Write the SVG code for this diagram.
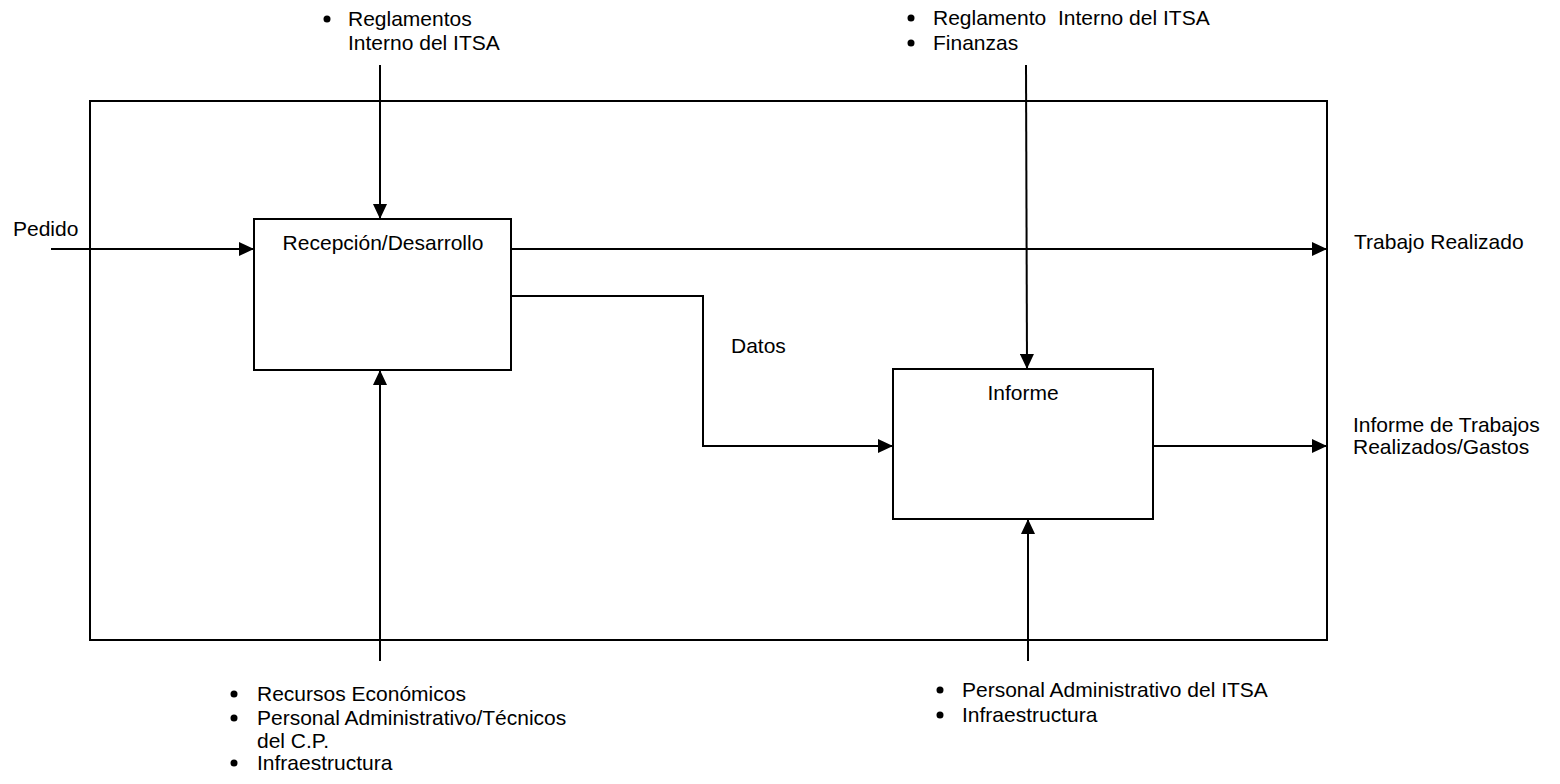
<svg xmlns="http://www.w3.org/2000/svg" width="1560" height="784" viewBox="0 0 1560 784">
<defs>
<style>
text{font-family:"Liberation Sans",Arial,sans-serif;font-size:21px;fill:#000;white-space:pre}
.ln{stroke:#000;stroke-width:2;fill:none}
.box{stroke:#000;stroke-width:2;fill:#fff}
.bul{fill:#000}
</style>
<marker id="ah" markerWidth="16" markerHeight="14" refX="15" refY="7" orient="auto" markerUnits="userSpaceOnUse">
<path d="M0,0 L15,7 L0,14 Z" fill="#000"/>
</marker>
</defs>
<rect width="1560" height="784" fill="#fff"/>
<g id="frame"><rect x="90" y="101" width="1237" height="539" class="ln"/></g>
<g id="recepcion"><rect x="254" y="219" width="257" height="151" class="box"/><text x="383" y="250" text-anchor="middle">Recepción/Desarrollo</text></g>
<g id="informe"><rect x="893" y="369" width="260" height="150" class="box"/><text x="1023" y="400" text-anchor="middle">Informe</text></g>
<g id="connectors">
<line x1="51" y1="249" x2="254" y2="249" class="ln" marker-end="url(#ah)"/>
<line x1="511" y1="249" x2="1327" y2="249" class="ln" marker-end="url(#ah)"/>
<polyline points="511,296 703,296 703,446 893,446" class="ln" marker-end="url(#ah)"/>
<line x1="1153" y1="446" x2="1327" y2="446" class="ln" marker-end="url(#ah)"/>
<line x1="380" y1="65" x2="380" y2="219" class="ln" marker-end="url(#ah)"/>
<line x1="1026" y1="65" x2="1027" y2="369" class="ln" marker-end="url(#ah)"/>
<line x1="380" y1="661" x2="380" y2="370" class="ln" marker-end="url(#ah)"/>
<line x1="1028" y1="661" x2="1028" y2="519" class="ln" marker-end="url(#ah)"/>
</g>
<g id="labels">
<text x="13" y="236">Pedido</text>
<text x="1354" y="249">Trabajo Realizado</text>
<text x="731" y="353">Datos</text>
<text x="1353" y="432">Informe de Trabajos</text>
<text x="1353" y="454">Realizados/Gastos</text>
</g>
<g id="control-top-left">
<circle cx="327" cy="19" r="3.5" class="bul"/>
<text x="348" y="26">Reglamentos</text>
<text x="348" y="50">Interno del ITSA</text>
</g>
<g id="control-top-right">
<circle cx="911" cy="18" r="3.5" class="bul"/>
<text x="933" y="25" xml:space="preserve">Reglamento  Interno del ITSA</text>
<circle cx="911" cy="43" r="3.5" class="bul"/>
<text x="933" y="50">Finanzas</text>
</g>
<g id="mech-bottom-left">
<circle cx="234" cy="694" r="3.5" class="bul"/>
<text x="257" y="701">Recursos Económicos</text>
<circle cx="234" cy="718" r="3.5" class="bul"/>
<text x="257" y="725">Personal Administrativo/Técnicos</text>
<text x="257" y="748">del C.P.</text>
<circle cx="234" cy="763" r="3.5" class="bul"/>
<text x="257" y="770">Infraestructura</text>
</g>
<g id="mech-bottom-right">
<circle cx="940" cy="690" r="3.5" class="bul"/>
<text x="962" y="697">Personal Administrativo del ITSA</text>
<circle cx="940" cy="715" r="3.5" class="bul"/>
<text x="962" y="722">Infraestructura</text>
</g>
</svg>
